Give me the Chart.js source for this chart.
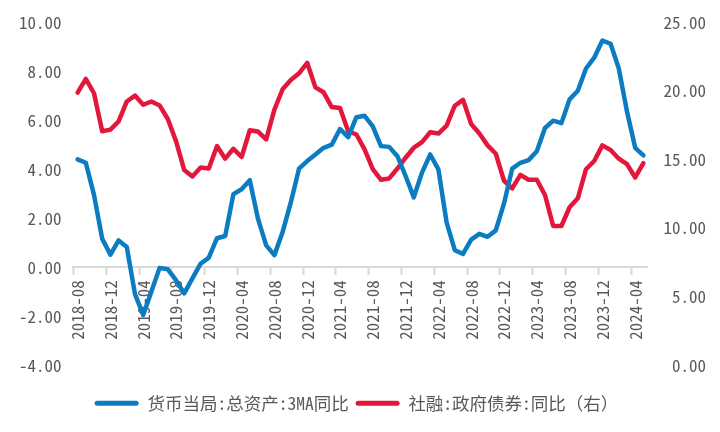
<!DOCTYPE html>
<html><head><meta charset="utf-8">
<script src="https://cdn.jsdelivr.net/npm/chart.js@4.4.1/dist/chart.umd.min.js"></script>
<style>html,body{margin:0;padding:0;background:#fff}</style>
</head><body>
<canvas id="c" width="720" height="432"></canvas>
<script>
const categories = [
 "2018-08","2018-09","2018-10","2018-11","2018-12",
 "2019-01","2019-02","2019-03","2019-04","2019-05","2019-06","2019-07","2019-08","2019-09","2019-10","2019-11","2019-12",
 "2020-01","2020-02","2020-03","2020-04","2020-05","2020-06","2020-07","2020-08","2020-09","2020-10","2020-11","2020-12",
 "2021-01","2021-02","2021-03","2021-04","2021-05","2021-06","2021-07","2021-08","2021-09","2021-10","2021-11","2021-12",
 "2022-01","2022-02","2022-03","2022-04","2022-05","2022-06","2022-07","2022-08","2022-09","2022-10","2022-11","2022-12",
 "2023-01","2023-02","2023-03","2023-04","2023-05","2023-06","2023-07","2023-08","2023-09","2023-10","2023-11","2023-12",
 "2024-01","2024-02","2024-03","2024-04","2024-05"
];
const seriesNames = ["货币当局:总资产:3MA同比", "社融:政府债券:同比（右）"];
const pbocAssets = [
 4.40,4.26,2.95,1.16,0.51,
 1.09,0.82,-1.10,-1.95,-1.00,-0.03,-0.09,-0.53,-1.07,-0.46,0.14,0.39,
 1.18,1.27,2.98,3.18,3.55,1.97,0.89,0.49,1.43,2.64,4.02,4.33,
 4.60,4.87,5.00,5.64,5.31,6.12,6.18,5.75,4.94,4.91,4.53,3.72,
 2.85,3.86,4.60,3.99,1.83,0.69,0.54,1.12,1.36,1.24,1.50,2.60,
 4.02,4.26,4.37,4.73,5.68,5.98,5.88,6.85,7.20,8.11,8.55,9.25,
 9.12,8.11,6.35,4.87,4.56
];
const govBonds = [
 19.87,20.86,19.82,17.05,17.17,
 17.77,19.22,19.65,18.98,19.22,18.93,17.94,16.33,14.23,13.75,14.40,14.33,
 15.97,15.05,15.77,15.17,17.12,17.03,16.45,18.62,20.11,20.79,21.27,22.04,
 20.25,19.89,18.81,18.74,17.05,16.81,15.73,14.28,13.51,13.61,14.33,15.12,
 15.85,16.26,16.98,16.88,17.46,18.91,19.34,17.58,16.88,16.02,15.41,13.44,
 12.88,13.87,13.51,13.51,12.40,10.14,10.14,11.51,12.16,14.28,14.88,16.02,
 15.68,15.05,14.65,13.68,14.72
];
const leftTicks = {min: -4, max: 10, step: 2};
const rightTicks = {min: 0, max: 25, step: 5};

const BLUE = '#0b7cc1', RED = '#e2173b', TXT = '#595959', AXIS = '#d9d9d9';
const FONT = '"Noto Sans Mono CJK SC", "Liberation Sans", "Noto Sans CJK SC", sans-serif';

new Chart(document.getElementById('c'), {
  type: 'line',
  data: {
    labels: categories,
    datasets: [
      {label: seriesNames[0], data: pbocAssets, yAxisID: 'y', borderColor: BLUE, backgroundColor: BLUE,
       borderWidth: 4.5, pointRadius: 0, tension: 0, borderJoinStyle: 'round', borderCapStyle: 'round'},
      {label: seriesNames[1], data: govBonds, yAxisID: 'y1', borderColor: RED, backgroundColor: RED,
       borderWidth: 4.5, pointRadius: 0, tension: 0, borderJoinStyle: 'round', borderCapStyle: 'round'}
    ]
  },
  options: {
    responsive: false, animation: false, devicePixelRatio: 1,
    layout: {padding: {top: 18, left: 7, right: 14, bottom: 10}},
    plugins: {
      tooltip: {enabled: false},
      legend: {
        position: 'bottom',
        title: {display: true, text: ' ', padding: {top: 8, bottom: 0}, font: {size: 12}},
        labels: {
          boxWidth: 44, boxHeight: 5, padding: 7, color: TXT,
          font: {family: FONT, size: 17.5},
          generateLabels(chart) {
            const items = Chart.defaults.plugins.legend.labels.generateLabels(chart);
            return items.map(it => Object.assign(it, {lineWidth: 0, fillStyle: it.strokeStyle, borderRadius: 2.5}));
          }
        }
      }
    },
    scales: {
      x: {
        type: 'category',
        position: {y: 0},
        offset: true,
        grid: {
          offset: true, drawOnChartArea: false, drawTicks: true, tickLength: 7, tickWidth: 2,
          tickColor: ctx => (ctx.index % 4 === 0 ? AXIS : 'rgba(0,0,0,0)'),
          color: AXIS
        },
        border: {display: true, color: AXIS, width: 2},
        ticks: {
          autoSkip: false, maxRotation: 90, minRotation: 90, padding: 6, color: TXT,
          font: {family: FONT, size: 17},
          callback(v, i) { return i % 4 === 0 ? this.getLabelForValue(v) : ''; }
        }
      },
      y: {
        position: 'left', min: leftTicks.min, max: leftTicks.max,
        grid: {display: false, drawTicks: false}, border: {display: false},
        ticks: {stepSize: leftTicks.step, padding: 12, color: TXT, font: {family: FONT, size: 17},
                callback: v => Number(v).toFixed(2)}
      },
      y1: {
        position: 'right', min: rightTicks.min, max: rightTicks.max,
        grid: {display: false, drawTicks: false}, border: {display: false},
        ticks: {stepSize: rightTicks.step, padding: 8, crossAlign: 'far', color: TXT, font: {family: FONT, size: 17},
                callback: v => Number(v).toFixed(2)}
      }
    }
  }
});
</script>
</body></html>
